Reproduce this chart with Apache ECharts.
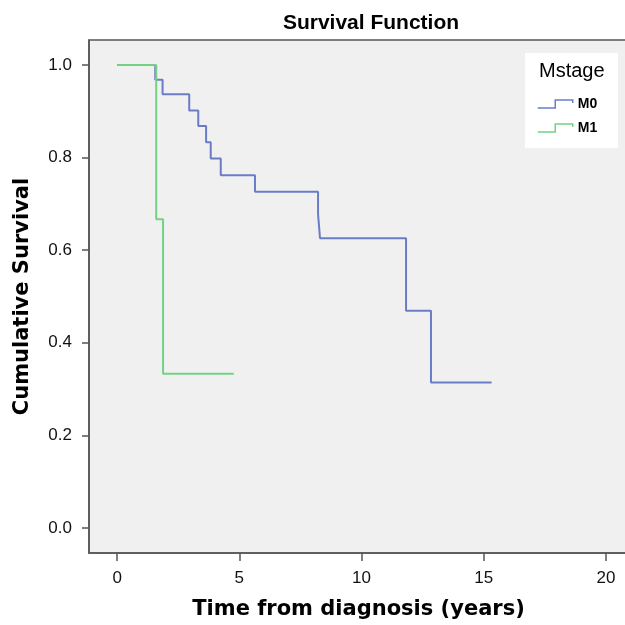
<!DOCTYPE html>
<html>
<head>
<meta charset="utf-8">
<script src="https://cdn.jsdelivr.net/npm/echarts@6/dist/echarts.min.js"></script>
<style>html,body{margin:0;padding:0;background:#fff;}#c{width:625px;height:625px;}</style>
</head>
<body>
<div id="c"></div>
<script>
// Kaplan-Meier estimates: [time (years), cumulative survival]
var m0Times = [0, 1.56, 1.86, 2.95, 3.32, 3.64, 3.83, 4.24, 5.64, 8.22, 8.30, 11.82, 12.84, 15.32];
var m0Surv  = [1.0, 0.968, 0.937, 0.902, 0.868, 0.833, 0.798, 0.762, 0.726, 0.678, 0.626, 0.469, 0.314, 0.314];
var m1Times = [0, 1.60, 1.88, 4.77];
var m1Surv  = [1.0, 0.667, 0.333, 0.333];
var xTicks = [0, 5, 10, 15, 20];
var yTicks = [0.0, 0.2, 0.4, 0.6, 0.8, 1.0];
var seriesNames = ['M0', 'M1'];
var legendTitle = 'Mstage';

function pairs(t, s) { return t.map(function (v, i) { return [v, s[i]]; }); }

var blue = '#6b7cc7';
var green = '#74d183';
var stepIcon = 'path://M0,9 L17,9 L17,1 L34,1 L34,4';

var chart = echarts.init(document.getElementById('c'), null, {renderer: 'canvas'});
chart.setOption({
  animation: false,
  backgroundColor: '#ffffff',
  title: {
    text: 'Survival Function',
    left: 366, top: 8, textAlign: 'center',
    textStyle: {fontFamily: 'Liberation Sans', fontWeight: 'bold', fontSize: 21, color: '#000'}
  },
  grid: {
    left: 89, top: 40, right: -3, bottom: 72,
    outerBoundsMode: 'none', containLabel: false,
    show: true, backgroundColor: '#f0f0f0', borderColor: '#555', borderWidth: 1.5
  },
  xAxis: {
    type: 'value', min: -1.15, max: 20.9,
    name: 'Time from diagnosis (years)', nameLocation: 'middle', nameGap: 46,
    nameTextStyle: {fontFamily: 'DejaVu Sans', fontWeight: 'bold', fontSize: 21, color: '#000'},
    splitLine: {show: false},
    axisLine: {show: true, onZero: false, lineStyle: {color: '#555', width: 1.5}},
    axisTick: {show: true, customValues: xTicks, length: 8, lineStyle: {color: '#555', width: 1.5}},
    axisLabel: {customValues: xTicks, margin: 17, fontFamily: 'Liberation Sans', fontSize: 17, color: '#111'}
  },
  yAxis: {
    type: 'value', min: -0.054, max: 1.054,
    name: 'Cumulative Survival', nameLocation: 'middle', nameGap: 56,
    nameTextStyle: {fontFamily: 'DejaVu Sans', fontWeight: 'bold', fontSize: 21, color: '#000'},
    splitLine: {show: false},
    axisLine: {show: true, onZero: false, lineStyle: {color: '#555', width: 1.5}},
    axisTick: {show: true, customValues: yTicks, length: 7, lineStyle: {color: '#555', width: 1.5}},
    axisLabel: {customValues: yTicks, margin: 17, fontFamily: 'Liberation Sans', fontSize: 17, color: '#111',
      formatter: function (v) { return v.toFixed(1); }}
  },
  graphic: [
    {type: 'rect', left: 525, top: 53, z: 50, shape: {width: 93, height: 95}, style: {fill: '#ffffff'}},
    {type: 'text', left: 539, top: 61, z: 51,
      style: {text: legendTitle, fontFamily: 'Liberation Sans', fontSize: 20, fill: '#000'}}
  ],
  legend: {
    orient: 'vertical', left: 537, top: 97, z: 60, padding: 0,
    itemWidth: 35, itemHeight: 9, itemGap: 10,
    icon: stepIcon,
    textStyle: {fontFamily: 'Liberation Sans', fontWeight: 'bold', fontSize: 14, color: '#000', lineHeight: 14},
    data: [
      {name: seriesNames[0], itemStyle: {color: 'rgba(0,0,0,0)', borderColor: blue, borderWidth: 1.5}},
      {name: seriesNames[1], itemStyle: {color: 'rgba(0,0,0,0)', borderColor: green, borderWidth: 1.5}}
    ]
  },
  series: [
    {name: seriesNames[0], type: 'line', step: 'end', data: pairs(m0Times, m0Surv),
      showSymbol: false, symbol: 'none', color: blue, lineStyle: {color: blue, width: 2}},
    {name: seriesNames[1], type: 'line', step: 'end', data: pairs(m1Times, m1Surv),
      showSymbol: false, symbol: 'none', color: green, lineStyle: {color: green, width: 2}}
  ]
});
</script>
</body>
</html>
